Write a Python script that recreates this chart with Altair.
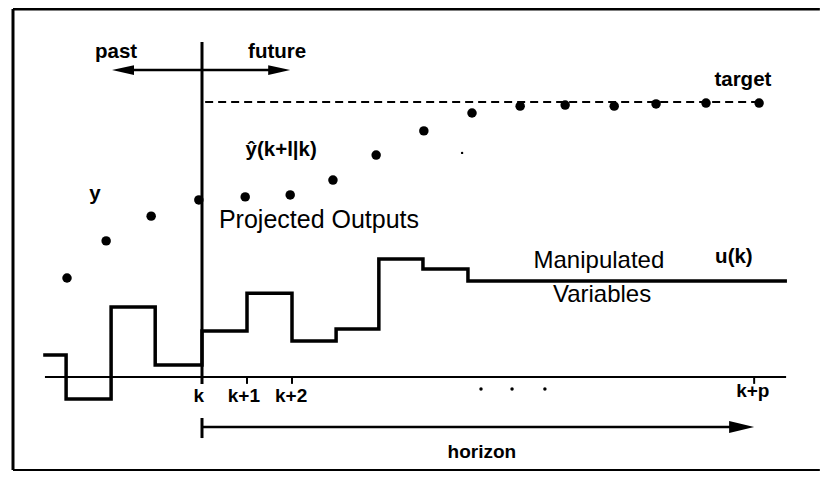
import altair as alt
import pandas as pd

# ---- data (time in sampling steps relative to k; values in diagram units: time axis = 0, target = 10)
past_t = [-3.0, -2.13, -1.13, -0.07]
past_y = [3.6, 4.95, 5.85, 6.44]

pred_t = [0.96, 1.96, 2.91, 3.87, 4.93, 6.0, 7.07, 8.07, 9.16, 10.09, 11.2, 12.38]
pred_y = [6.55, 6.62, 7.16, 8.07, 8.95, 9.6, 9.85, 9.89, 9.85, 9.93, 9.96, 9.96]

target_value = 10.0
target_span = [0.07, 12.38]

mv_t = [-3.49, -3.02, -2.02, -1.04, 0.0, 1.0, 2.0, 2.98, 3.93, 4.91, 5.91, 12.96]
mv_u = [0.8, -0.8, 2.55, 0.44, 1.67, 3.05, 1.31, 1.75, 4.29, 3.93, 3.49, 3.49]

axis_span = [-3.49, 12.98]
tick_t = [1.0, 2.0, 12.27]
tick_label_t = [-0.07, 0.93, 1.98, 12.24]
tick_label_v = [-0.91, -0.91, -0.91, -0.73]
tick_labels = ["k", "k+1", "k+2", "k+p"]

ellipsis_t = [6.2, 6.89, 7.62]
ellipsis_v = [-0.44, -0.44, -0.44]

k_line_span = [-0.25, 12.18]
time_arrow_v = 11.16
time_arrow_span = [-2.0, 1.96]
horizon_v = -1.82
horizon_span = [0.0, 12.27]
horizon_bar = [-1.49, -2.22]

speck_t = [5.78]
speck_v = [8.15]

frame_left = -4.2
frame_right = 13.73
frame_top = 13.38
frame_bottom = -3.38

bold_text = ["past", "future", "target", "ŷ(k+l|k)", "y", "u(k)"]
bold_t = [-1.91, 1.67, 12.02, 1.76, -2.38, 11.82]
bold_v = [11.6, 11.6, 10.58, 8.04, 6.44, 4.15]

horizon_text = ["horizon"]
horizon_t = [6.22]
horizon_tv = [-2.95]

big_text = ["Projected Outputs"]
big_t = [2.6]
big_v = [5.42]

mid_text = ["Manipulated", "Variables"]
mid_t = [8.82, 8.89]
mid_v = [3.96, 2.72]

# ---- scales
xs = alt.Scale(domain=[-4.3111, 13.7333], nice=False, zero=False)
ys = alt.Scale(domain=[-3.4545, 13.4182], nice=False, zero=False)
FONT = "Liberation Sans"


def X(f="t"):
    return alt.X(f"{f}:Q", scale=xs, axis=None)


def Y(f="v"):
    return alt.Y(f"{f}:Q", scale=ys, axis=None)


def hrule(df, width, dash=None):
    kw = dict(color="black", strokeWidth=width)
    if dash:
        kw["strokeDash"] = dash
    return alt.Chart(df).mark_rule(**kw).encode(x=X("t"), x2="t2:Q", y=Y("v"))


def vrule(df, width):
    return alt.Chart(df).mark_rule(color="black", strokeWidth=width).encode(
        x=X("t"), y=Y("v"), y2="v2:Q")


def texts(labels, t, v, size, weight):
    df = pd.DataFrame({"label": labels, "t": t, "v": v})
    return alt.Chart(df).mark_text(
        font=FONT, fontSize=size, fontWeight=weight, color="black",
        align="center", baseline="alphabetic",
    ).encode(x=X("t"), y=Y("v"), text="label:N")


layers = []

# frame
layers.append(vrule(pd.DataFrame({"t": [frame_left], "v": [frame_bottom], "v2": [frame_top]}), 3))
layers.append(hrule(pd.DataFrame({"t": [frame_left], "t2": [frame_right], "v": [frame_top]}), 3))
layers.append(hrule(pd.DataFrame({"t": [frame_left], "t2": [frame_right], "v": [frame_bottom]}), 2))

# time axis + ticks
layers.append(hrule(pd.DataFrame({"t": [axis_span[0]], "t2": [axis_span[1]], "v": [0.0]}), 2))
layers.append(vrule(pd.DataFrame({"t": tick_t, "v": [0.0] * len(tick_t), "v2": [-0.25] * len(tick_t)}), 2))

# vertical line at k
layers.append(vrule(pd.DataFrame({"t": [0.0], "v": [k_line_span[0]], "v2": [k_line_span[1]]}), 3))

# past/future arrow
layers.append(hrule(pd.DataFrame({"t": [time_arrow_span[0] + 0.2], "t2": [time_arrow_span[1] - 0.2],
                                  "v": [time_arrow_v]}), 2.5))
layers.append(alt.Chart(pd.DataFrame({"t": [time_arrow_span[0]], "v": [time_arrow_v]})).mark_point(
    shape="M0,0L2,-0.45L2,0.45Z", size=484, filled=True, color="black", opacity=1, strokeWidth=0
).encode(x=X(), y=Y()))
layers.append(alt.Chart(pd.DataFrame({"t": [time_arrow_span[1]], "v": [time_arrow_v]})).mark_point(
    shape="M0,0L-2,-0.45L-2,0.45Z", size=484, filled=True, color="black", opacity=1, strokeWidth=0
).encode(x=X(), y=Y()))

# horizon arrow
layers.append(hrule(pd.DataFrame({"t": [horizon_span[0]], "t2": [horizon_span[1] - 0.3],
                                  "v": [horizon_v]}), 2.5))
layers.append(vrule(pd.DataFrame({"t": [horizon_span[0]], "v": [horizon_bar[0]], "v2": [horizon_bar[1]]}), 3))
layers.append(alt.Chart(pd.DataFrame({"t": [horizon_span[1]], "v": [horizon_v]})).mark_point(
    shape="M0,0L-2,-0.48L-2,0.48Z", size=625, filled=True, color="black", opacity=1, strokeWidth=0
).encode(x=X(), y=Y()))

# target dashed line
layers.append(hrule(pd.DataFrame({"t": [target_span[0]], "t2": [target_span[1]], "v": [target_value]}),
                    2, dash=[8, 5]))

# manipulated variable (zero-order hold)
mv_df = pd.DataFrame({"t": mv_t, "v": mv_u})
layers.append(alt.Chart(mv_df).mark_line(
    interpolate="step-after", color="black", strokeWidth=3.5, strokeJoin="miter", strokeCap="square"
).encode(x=X(), y=Y()))

# outputs
out_df = pd.DataFrame({"t": past_t + pred_t, "v": past_y + pred_y})
layers.append(alt.Chart(out_df).mark_circle(size=90, color="black", opacity=1).encode(x=X(), y=Y()))

# ellipsis and speck
layers.append(alt.Chart(pd.DataFrame({"t": ellipsis_t, "v": ellipsis_v})).mark_circle(
    size=12, color="black", opacity=1).encode(x=X(), y=Y()))
layers.append(alt.Chart(pd.DataFrame({"t": speck_t, "v": speck_v})).mark_circle(
    size=6, color="black", opacity=1).encode(x=X(), y=Y()))

# texts
layers.append(texts(bold_text, bold_t, bold_v, 20.5, "bold"))
layers.append(texts(horizon_text, horizon_t, horizon_tv, 19, "bold"))
layers.append(texts(tick_labels, tick_label_t, tick_label_v, 19, "bold"))
layers.append(texts(big_text, big_t, big_v, 25, "normal"))
layers.append(texts(mid_text, mid_t, mid_v, 24, "normal"))

chart = alt.layer(*layers).properties(
    width=812, height=464, padding=0, autosize=alt.AutoSizeParams(type="none"),
    background="white",
).configure_view(stroke=None)

chart.save("out.html", embed_options={"renderer": "svg", "actions": False})
